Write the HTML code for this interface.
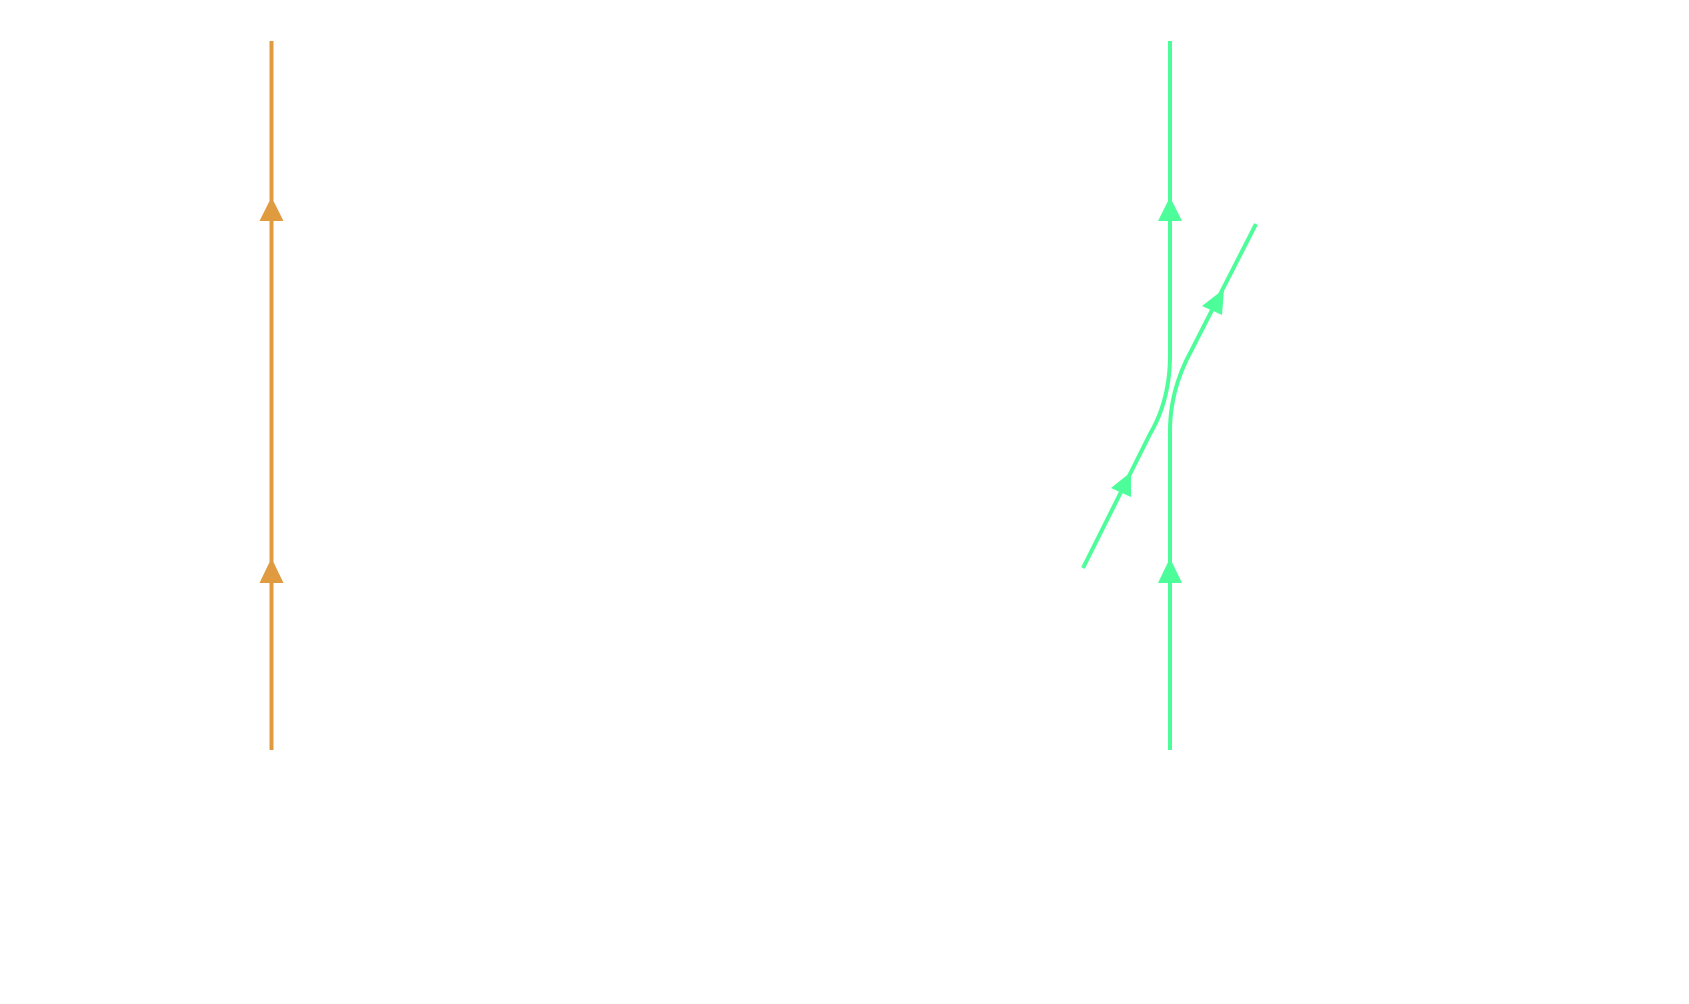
<!DOCTYPE html>
<html><head><meta charset="utf-8"><style>html,body{margin:0;padding:0;background:#fff;}svg{display:block}</style></head>
<body>
<svg width="1689" height="1004" viewBox="0 0 1689 1004" xmlns="http://www.w3.org/2000/svg">
<g fill="none" stroke-width="4">
<line x1="271.5" y1="41" x2="271.5" y2="750" stroke="#e09b40"/>
<line x1="1170" y1="41" x2="1170" y2="355" stroke="#4dfd9a"/>
<path d="M1170 355 Q1170 400 1150 434 L1083 568" stroke="#4dfd9a"/>
<line x1="1170" y1="750" x2="1170" y2="431" stroke="#4dfd9a"/>
<path d="M1170 431 Q1170 395 1186 361 L1256 224" stroke="#4dfd9a"/>
</g>
<g fill="#e09b40">
<polygon points="271.5,197 259.5,221 283.5,221"/>
<polygon points="271.5,558 259.5,583 283.5,583"/>
</g>
<g fill="#4dfd9a">
<polygon points="1170,197 1158,221 1182,221"/>
<polygon points="1170,558 1158,583 1182,583"/>
<polygon points="1131,472 1111,488 1131,497"/>
<polygon points="1224,289 1202,306 1222,315"/>
</g>
</svg>
</body></html>
